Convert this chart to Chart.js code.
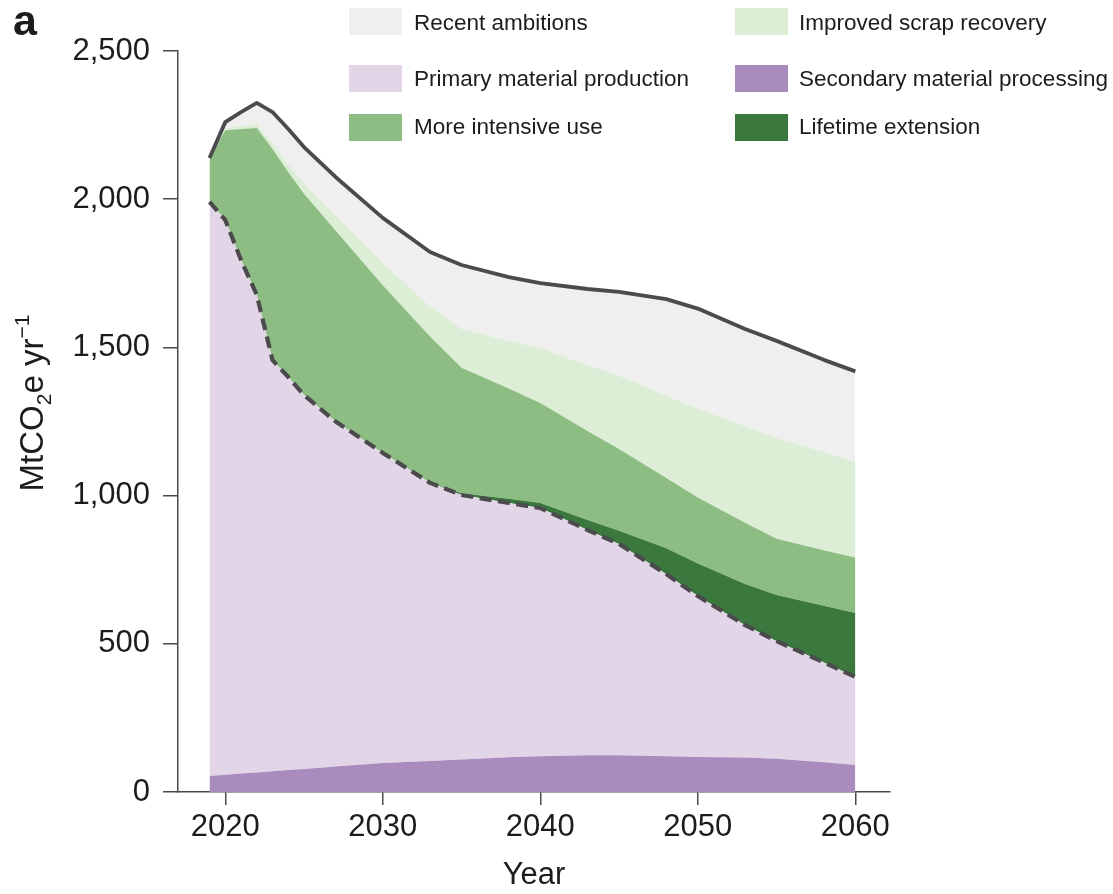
<!DOCTYPE html>
<html>
<head>
<meta charset="utf-8">
<script src="https://cdn.jsdelivr.net/npm/chart.js@4/dist/chart.umd.min.js"></script>
<style>
  html, body { margin: 0; padding: 0; background: #ffffff; }
  #wrap { width: 1113px; height: 894px; position: relative; }
</style>
</head>
<body>
<div id="wrap"><canvas id="chart" width="1113" height="894"></canvas></div>
<script>
// Emissions pathway (MtCO2e per year), split into stacked wedges.
const years = [2019, 2020, 2021, 2022, 2023, 2024, 2025, 2027, 2030, 2033, 2035, 2038, 2040, 2043, 2045, 2048, 2050, 2053, 2055, 2058, 2060];

const secondaryProcessing = [54, 58, 62, 66, 70, 74, 78, 86, 98, 105, 110, 117, 121, 124, 124, 121, 118, 116, 112, 100, 91];
const primaryProduction   = [1937, 1872, 1733, 1611, 1387, 1326, 1261, 1164, 1046, 938, 892, 858, 837, 760, 713, 614, 543, 447, 397, 337, 297];
const lifetimeExtension   = [0, 0, 0, 0, 0, 0, 0, 0, 0, 0, 6, 14, 17, 34, 44, 87, 110, 139, 156, 191, 216];
const intensiveUse        = [148, 303, 442, 563, 712, 692, 679, 644, 566, 494, 423, 372, 337, 300, 276, 237, 223, 206, 189, 188, 187];
const scrapRecovery       = [0, 7, 10, 14, 19, 27, 33, 50, 75, 102, 131, 161, 186, 223, 247, 279, 300, 327, 340, 331, 322];
const recentAmbitions     = [0, 20, 47, 71, 106, 118, 125, 131, 152, 183, 216, 215, 219, 256, 283, 325, 337, 327, 328, 311, 306];

const xTickValues = [2020, 2030, 2040, 2050, 2060];
const yTickValues = [0, 500, 1000, 1500, 2000, 2500];

const FONT = '"Liberation Sans", Arial, sans-serif';
const INK = '#1c1c1c';
const AXIS = '#4a4a4a';
const LINE = '#4b4b4d';

const toPoints = (vals) => years.map((yr, i) => ({ x: yr, y: vals[i] }));

const layer = (label, vals, color, fill, extra) => Object.assign({
  label,
  data: toPoints(vals),
  backgroundColor: color,
  borderColor: color,
  borderWidth: 0,
  fill,
  pointRadius: 0,
  pointHoverRadius: 0,
  tension: 0
}, extra || {});

const datasets = [
  layer('Secondary material processing', secondaryProcessing, '#a98bbe', 'origin'),
  layer('Primary material production', primaryProduction, '#e3d5e8', '-1', {
    borderColor: LINE, borderWidth: 4.2, borderDash: [12, 6.5], borderCapStyle: 'butt', borderJoinStyle: 'round'
  }),
  layer('Lifetime extension', lifetimeExtension, '#3a783e', '-1'),
  layer('More intensive use', intensiveUse, '#8dbd82', '-1'),
  layer('Improved scrap recovery', scrapRecovery, '#dcefd6', '-1'),
  layer('Recent ambitions', recentAmbitions, '#efefef', '-1', {
    borderColor: LINE, borderWidth: 3.8, borderJoinStyle: 'round', borderCapStyle: 'butt'
  })
];

// Two-column legend: [label, column, row]
const legendLayout = [
  ['Recent ambitions', 0, 0],
  ['Improved scrap recovery', 1, 0],
  ['Primary material production', 0, 1],
  ['Secondary material processing', 1, 1],
  ['More intensive use', 0, 2],
  ['Lifetime extension', 1, 2]
];

const figureText = {
  id: 'figureText',
  afterDraw(chart) {
    const ctx = chart.ctx;
    const area = chart.chartArea;
    ctx.save();
    ctx.fillStyle = INK;

    // panel letter
    ctx.font = 'bold 43px ' + FONT;
    ctx.textAlign = 'left';
    ctx.textBaseline = 'alphabetic';
    ctx.fillText('a', 13, 35);

    // x-axis title
    ctx.font = '31px ' + FONT;
    ctx.textAlign = 'center';
    ctx.fillText('Year', (area.left + area.right) / 2, 884);

    // y-axis title with subscript and superscript
    const parts = [
      { t: 'MtCO', size: 33, dy: 0 },
      { t: '2', size: 21, dy: 8 },
      { t: 'e yr', size: 33, dy: 0 },
      { t: '\u22121', size: 21, dy: -14 }
    ];
    let total = 0;
    parts.forEach(p => { ctx.font = p.size + 'px ' + FONT; p.w = ctx.measureText(p.t).width; total += p.w; });
    ctx.translate(43, 403);
    ctx.rotate(-Math.PI / 2);
    ctx.textAlign = 'left';
    let x = -total / 2;
    parts.forEach(p => {
      ctx.font = p.size + 'px ' + FONT;
      ctx.fillText(p.t, x, p.dy);
      x += p.w;
    });
    ctx.setTransform(1, 0, 0, 1, 0, 0);

    // legend
    const colSwatchX = [349, 735];
    const colTextX = [414, 799];
    const rowSwatchY = [8, 65, 114];
    const rowBaseline = [30, 86, 134];
    ctx.font = '22.5px ' + FONT;
    ctx.textAlign = 'left';
    legendLayout.forEach(([label, col, row]) => {
      const ds = chart.data.datasets.find(d => d.label === label);
      ctx.fillStyle = ds.backgroundColor;
      ctx.fillRect(colSwatchX[col], rowSwatchY[row], 53, 27);
      ctx.fillStyle = INK;
      ctx.fillText(label, colTextX[col], rowBaseline[row]);
    });
    ctx.restore();
  }
};

new Chart(document.getElementById('chart'), {
  type: 'line',
  data: { datasets },
  plugins: [figureText],
  options: {
    responsive: false,
    animation: false,
    devicePixelRatio: 1,
    events: [],
    layout: { padding: { left: 0, top: 51, right: 223, bottom: 0 } },
    plugins: {
      legend: { display: false },
      tooltip: { enabled: false },
      filler: { drawTime: 'beforeDatasetsDraw' }
    },
    scales: {
      x: {
        type: 'linear',
        min: 2017,
        max: 2062.2,
        afterBuildTicks: (scale) => { scale.ticks = xTickValues.map(v => ({ value: v })); },
        afterFit: (scale) => { scale.height = 102; },
        border: { display: true, color: AXIS, width: 1.5 },
        grid: { drawOnChartArea: false, drawTicks: true, tickLength: 13, color: AXIS, lineWidth: 1.5 },
        ticks: {
          color: INK,
          padding: 4,
          maxRotation: 0,
          font: { family: FONT, size: 31 },
          callback: (v) => String(v)
        }
      },
      y: {
        stacked: true,
        min: 0,
        max: 2500,
        afterBuildTicks: (scale) => { scale.ticks = yTickValues.map(v => ({ value: v })); },
        afterFit: (scale) => { scale.width = 178; },
        border: { display: true, color: AXIS, width: 1.5 },
        grid: { drawOnChartArea: false, drawTicks: true, tickLength: 15, color: AXIS, lineWidth: 1.5 },
        ticks: {
          color: INK,
          padding: 13,
          font: { family: FONT, size: 31 },
          callback: (v) => v.toLocaleString('en-US')
        }
      }
    }
  }
});
</script>
</body>
</html>
